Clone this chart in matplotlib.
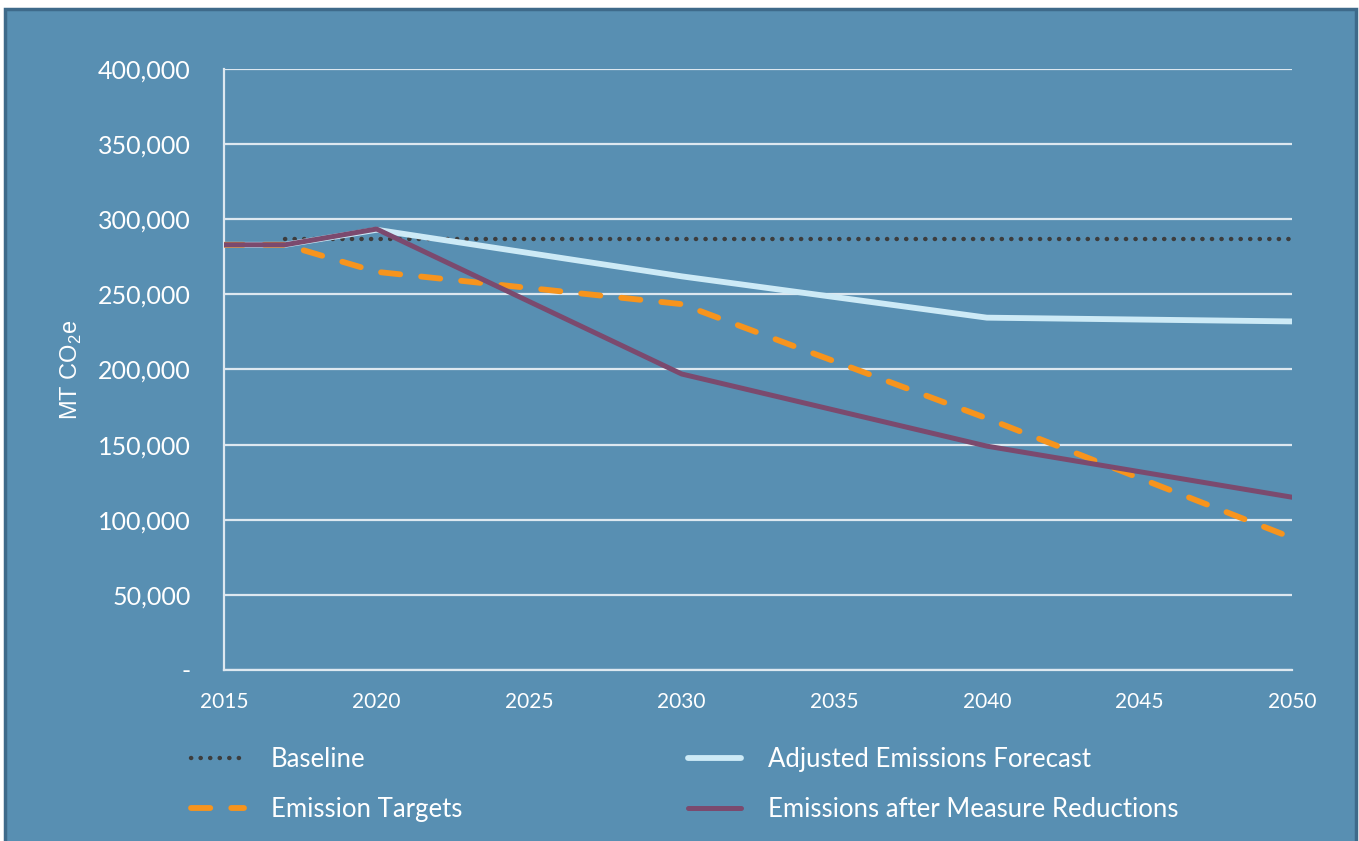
import matplotlib
matplotlib.use('Agg')
import matplotlib.pyplot as plt
from matplotlib.patches import Rectangle
from matplotlib.ticker import FuncFormatter

# emissions projections, MT CO2e
baseline_years = [2017, 2020, 2030, 2040, 2050]
baseline = [287000, 287000, 287000, 287000, 287000]

adjusted_years = [2015, 2017, 2020, 2030, 2040, 2050]
adjusted = [283000, 283000, 293000, 262000, 234500, 232000]

target_years = [2015, 2017, 2020, 2030, 2040, 2050]
targets = [283000, 283000, 265000, 243500, 167500, 88000]

measure_years = [2015, 2017, 2020, 2030, 2040, 2050]
measures = [283000, 283000, 293500, 197000, 149000, 115000]

x_ticks = [2015, 2020, 2025, 2030, 2035, 2040, 2045, 2050]
y_ticks = [0, 50000, 100000, 150000, 200000, 250000, 300000, 350000, 400000]

BG = '#588fb2'
plt.rcParams['font.family'] = ['Lato', 'DejaVu Sans']

fig = plt.figure(figsize=(13.59, 8.41), dpi=100, facecolor='white')
W, H = 1359, 841
fig.patches.append(Rectangle((5 / W, -0.02), 1351 / W, 1.02 - 9 / H,
                             transform=fig.transFigure, facecolor=BG,
                             edgecolor='#3e6a8a', linewidth=2.5, zorder=-10))

ax = fig.add_axes([224 / W, 1 - 670 / H, 1068 / W, 601 / H])
ax.set_facecolor('none')

ax.plot(baseline_years, baseline, color='#3d3d3d', linewidth=3.2,
        linestyle=(0, (0.05, 2.1)), dash_capstyle='round', zorder=3,
        label='Baseline')
ax.plot(adjusted_years, adjusted, color='#cdeaf6', linewidth=4.2,
        solid_capstyle='round', zorder=3, label='Adjusted Emissions Forecast')
ax.plot(target_years, targets, color='#f7941d', linewidth=4.2,
        linestyle=(0, (3.3, 3.6)), dash_capstyle='round', zorder=4,
        label='Emission Targets')
ax.plot(measure_years, measures, color='#7b4a6e', linewidth=3.6,
        solid_capstyle='round', zorder=5,
        label='Emissions after Measure Reductions')

ax.set_xlim(2015, 2050)
ax.set_ylim(0, 400000)
ax.set_xticks(x_ticks)
ax.set_yticks(y_ticks)
ax.yaxis.set_major_formatter(FuncFormatter(lambda v, p: '-' if v == 0 else f'{int(v):,}'))
ax.grid(axis='y', color='#dde8f0', linewidth=1.6)
ax.set_axisbelow(True)

for side in ['top', 'right']:
    ax.spines[side].set_visible(False)
for side in ['left', 'bottom']:
    ax.spines[side].set_color('#dde8f0')
    ax.spines[side].set_linewidth(1.6)

ax.tick_params(axis='both', length=0, colors='white')
ax.tick_params(axis='y', labelsize=18, pad=24)
ax.tick_params(axis='x', labelsize=15, pad=16)

ax.set_ylabel(r'MT CO$_\mathregular{2}$e', color='white', fontsize=17,
              family=['Liberation Sans', 'DejaVu Sans'], labelpad=10)

h, l = ax.get_legend_handles_labels()
order = [0, 2, 1, 3]
leg = fig.legend([h[i] for i in order], [l[i] for i in order], ncol=2,
                 loc='upper left', bbox_to_anchor=(168 / W, 1 - 724 / H),
                 frameon=False, fontsize=18.5, labelcolor='white',
                 handlelength=2.05, handletextpad=1.05, columnspacing=8.8,
                 labelspacing=0.98)

fig.savefig('out.png', dpi=100, facecolor='white')
